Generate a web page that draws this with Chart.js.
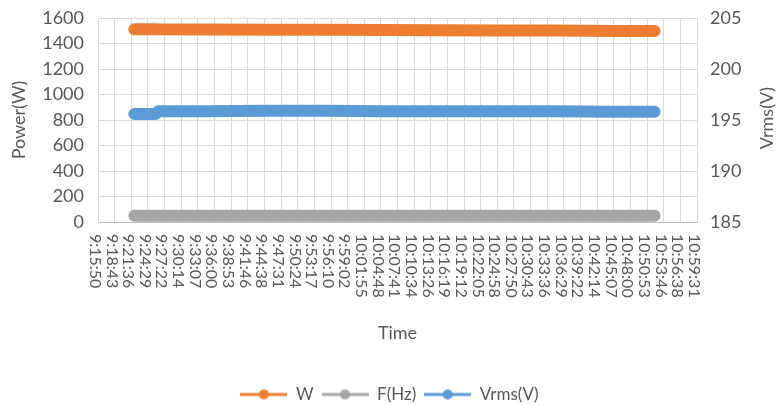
<!DOCTYPE html>
<html>
<head>
<meta charset="utf-8">
<script src="https://cdn.jsdelivr.net/npm/chart.js@4"></script>
<style>
  html, body { margin: 0; padding: 0; background: #ffffff; }
  #wrap { width: 779px; height: 405px; }
</style>
</head>
<body>
<div id="wrap"><canvas id="chart" width="779" height="405"></canvas></div>
<script>
// --- DATA ---
const tickLabels = ['9:15:50', '9:18:43', '9:21:36', '9:24:29', '9:27:22', '9:30:14', '9:33:07', '9:36:00',
    '9:38:53', '9:41:46', '9:44:38', '9:47:31', '9:50:24', '9:53:17', '9:56:10', '9:59:02', '10:01:55',
    '10:04:48', '10:07:41', '10:10:34', '10:13:26', '10:16:19', '10:19:12', '10:22:05', '10:24:58',
    '10:27:50', '10:30:43', '10:33:36', '10:36:29', '10:39:22', '10:42:14', '10:45:07', '10:48:00',
    '10:50:53', '10:53:46', '10:56:38', '10:59:31'];

const sampleTimes = ['9:22:07', '9:25:50', '9:26:16', '9:35:00', '9:45:00', '9:55:00', '10:05:00',
    '10:15:00', '10:25:00', '10:35:00', '10:45:00', '10:52:10'];
const wValues = [1512, 1512, 1511, 1510, 1508, 1507, 1505, 1504, 1502, 1501, 1499, 1498];
const fValues = [50, 50, 50, 50, 50, 50, 50, 50, 50, 50, 50, 50];
const vrmsValues = [195.6, 195.6, 195.85, 195.85, 195.9, 195.9, 195.85, 195.85, 195.85, 195.85, 195.8, 195.8];

const seriesNames = ['W', 'F(Hz)', 'Vrms(V)'];
const seriesColors = ['#ED7D31', '#A5A5A5', '#5B9BD5'];

const FONT = 'Lato';
const TEXT = '#595959';

// "h:mm:ss" -> seconds
function toSec(t) {
    const p = t.split(':').map(Number);
    return p[0] * 3600 + p[1] * 60 + p[2];
}

function points(vals) {
    return sampleTimes.map((t, i) => ({ x: toSec(t), y: vals[i] }));
}

// legend icon: line with a dot in the middle
function legendIcon(color) {
    const c = document.createElement('canvas');
    c.width = 47; c.height = 12;
    const g = c.getContext('2d');
    g.strokeStyle = color;
    g.lineWidth = 3;
    g.beginPath(); g.moveTo(0, 6); g.lineTo(47, 6); g.stroke();
    g.fillStyle = color;
    g.beginPath(); g.arc(23.5, 6, 5, 0, Math.PI * 2); g.fill();
    return c;
}
const icons = seriesColors.map(legendIcon);

// x labels read top-to-bottom, plus the right axis title
const extraText = {
    id: 'extraText',
    afterDraw(chart) {
        const { ctx, scales: { x, y1 } } = chart;
        ctx.save();
        ctx.fillStyle = TEXT;
        ctx.font = '16px ' + FONT;
        ctx.textAlign = 'left';
        ctx.textBaseline = 'middle';
        tickLabels.forEach(lbl => {
            const px = x.getPixelForValue(toSec(lbl));
            ctx.save();
            ctx.translate(px - 3, x.top + 12);
            ctx.rotate(Math.PI / 2);
            ctx.fillText(lbl, 0, 0);
            ctx.restore();
        });

        ctx.font = '18px ' + FONT;
        ctx.textAlign = 'center';
        ctx.translate(767, (y1.top + y1.bottom) / 2 - 2);
        ctx.rotate(-Math.PI / 2);
        ctx.fillText('Vrms(V)', 0, 0);
        ctx.restore();
    }
};

const lineStyle = {
    borderWidth: 12,
    borderCapStyle: 'round',
    borderJoinStyle: 'round',
    pointRadius: 0,
    pointHoverRadius: 0,
    fill: false,
    tension: 0
};

const noTick = 'rgba(0,0,0,0)';

new Chart(document.getElementById('chart'), {
    type: 'line',
    data: {
        datasets: [
            { label: seriesNames[0], data: points(wValues), borderColor: seriesColors[0], backgroundColor: seriesColors[0], yAxisID: 'y', ...lineStyle },
            { label: seriesNames[1], data: points(fValues), borderColor: seriesColors[1], backgroundColor: seriesColors[1], yAxisID: 'y', ...lineStyle },
            { label: seriesNames[2], data: points(vrmsValues), borderColor: seriesColors[2], backgroundColor: seriesColors[2], yAxisID: 'y1', ...lineStyle }
        ]
    },
    options: {
        responsive: false,
        animation: false,
        layout: { padding: { top: 18, right: 0, bottom: -8, left: 0 } },
        plugins: {
            tooltip: { enabled: false },
            legend: {
                position: 'bottom',
                labels: {
                    usePointStyle: true,
                    pointStyleWidth: 47,
                    boxHeight: 12,
                    padding: 8,
                    color: TEXT,
                    font: { family: FONT, size: 17 },
                    generateLabels(chart) {
                        const items = Chart.defaults.plugins.legend.labels.generateLabels(chart);
                        items.forEach((it, i) => { it.pointStyle = icons[i]; });
                        return items;
                    }
                }
            }
        },
        scales: {
            x: {
                type: 'linear',
                min: toSec(tickLabels[0]),
                max: toSec(tickLabels[tickLabels.length - 1]),
                afterBuildTicks: s => { s.ticks = tickLabels.map(t => ({ value: toSec(t) })); },
                afterFit: s => { s.height = 156; },
                ticks: { display: false },
                grid: { color: '#D9D9D9', drawTicks: false },
                border: { color: '#BFBFBF' },
                title: {
                    display: true,
                    text: 'Time',
                    color: TEXT,
                    font: { family: FONT, size: 18 },
                    padding: { top: 0, bottom: 34 }
                }
            },
            y: {
                position: 'left',
                min: 0,
                max: 1600,
                afterFit: s => { s.width = 98; },
                ticks: { stepSize: 200, padding: 0, color: TEXT, font: { family: FONT, size: 18 }, callback: v => String(v) },
                grid: { color: '#D9D9D9', drawTicks: true, tickLength: 14, tickColor: noTick },
                border: { color: '#D9D9D9' },
                title: {
                    display: true,
                    text: 'Power(W)',
                    color: TEXT,
                    font: { family: FONT, size: 18 },
                    padding: { top: 8, bottom: 0 }
                }
            },
            y1: {
                position: 'right',
                min: 185,
                max: 205,
                afterFit: s => { s.width = 82; },
                ticks: { stepSize: 5, padding: 0, color: TEXT, font: { family: FONT, size: 18 }, callback: v => String(v) },
                grid: { drawOnChartArea: false, drawTicks: true, tickLength: 13, tickColor: noTick },
                border: { color: '#D9D9D9' }
            }
        }
    },
    plugins: [extraText]
});
</script>
</body>
</html>
